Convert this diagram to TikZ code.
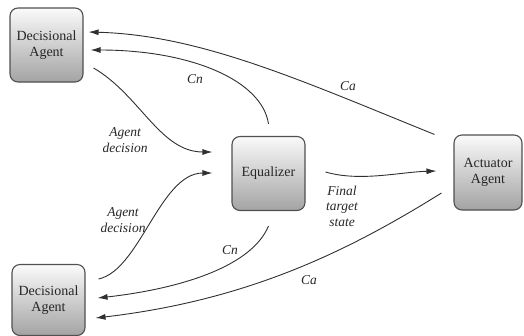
\documentclass[tikz,border=0pt]{standalone}
\usepackage{fontspec}
\setmainfont{Liberation Serif}
\newfontfamily\timesfont{Liberation Serif}
\usetikzlibrary{arrows.meta, positioning}
\usepackage{xcolor}
\definecolor{boxline}{HTML}{505050}
\definecolor{flowline}{HTML}{303030}

\begin{document}
\begin{tikzpicture}[x=1pt, y=-1pt, font=\timesfont\fontsize{14}{15.5}\selectfont]

  \tikzstyle{agent} = [rectangle, rounded corners=8pt, draw=boxline, line width=1.1pt,
    top color=white!96!gray, bottom color=gray!72, align=center, text=black!85,
    minimum width=73pt, minimum height=74pt];
  \tikzstyle{flow} = [draw=flowline, line width=0.9pt, -{Latex[length=10pt, width=6pt]}];
  \tikzstyle{lbl} = [align=center, text=black!85, font=\timesfont\fontsize{13.5}{15.5}\selectfont\itshape, inner sep=0pt];

  \useasboundingbox (0,0) rectangle (524,335);

  \node[agent] (dtop) at (46.5,45) {Decisional\\Agent};
  \node[agent] (eq) at (268.5,173.5) {Equalizer};
  \node[agent, minimum width=68pt, minimum height=75pt] (act) at (488,172.5) {Actuator\\Agent};
  \node[agent, minimum height=71pt] (dbot) at (48.5,300) {Decisional\\Agent};

  \draw[flow] ([shift={(-19,0)}]act.north west) .. controls (300,80) and (200,35) .. ([shift={(5,-13)}]dtop.east);
  \draw[flow] ([shift={(0,-12)}]eq.north) .. controls (262,80) and (190,50) .. ([shift={(7,5)}]dtop.east);
  \draw[flow] ([shift={(10,23)}]dtop.east) .. controls (140,95) and (160,152) .. ([shift={(-19,-21.5)}]eq.west);
  \draw[flow] ([shift={(13,-21)}]dbot.east) .. controls (140,270) and (160,173) .. ([shift={(-19,-0.5)}]eq.west);
  \draw[flow] ([shift={(0,15)}]eq.south) .. controls (250,270) and (170,290) .. ([shift={(12,-2)}]dbot.east);
  \draw[flow] ([shift={(-12,20.5)}]act.west) .. controls (350,250) and (250,300) .. ([shift={(10,18)}]dbot.east);
  \draw[flow] ([shift={(20,-1.5)}]eq.east) .. controls (360,182) and (400,172) .. ([shift={(-17,-1.5)}]act.west);

  \node[lbl] (catop) at (348,86) {Ca};
  \node[lbl] (cntop) at (195,79) {Cn};
  \node[lbl] (dectop) at (125,140) {Agent\\decision};
  \node[lbl] (decbot) at (123,220) {Agent\\decision};
  \node[lbl] (cnbot) at (230,250) {Cn};
  \node[lbl] (cabot) at (309,280) {Ca};
  \node[lbl] (final) at (342,206) {Final\\target\\state};
\end{tikzpicture}
\end{document}
